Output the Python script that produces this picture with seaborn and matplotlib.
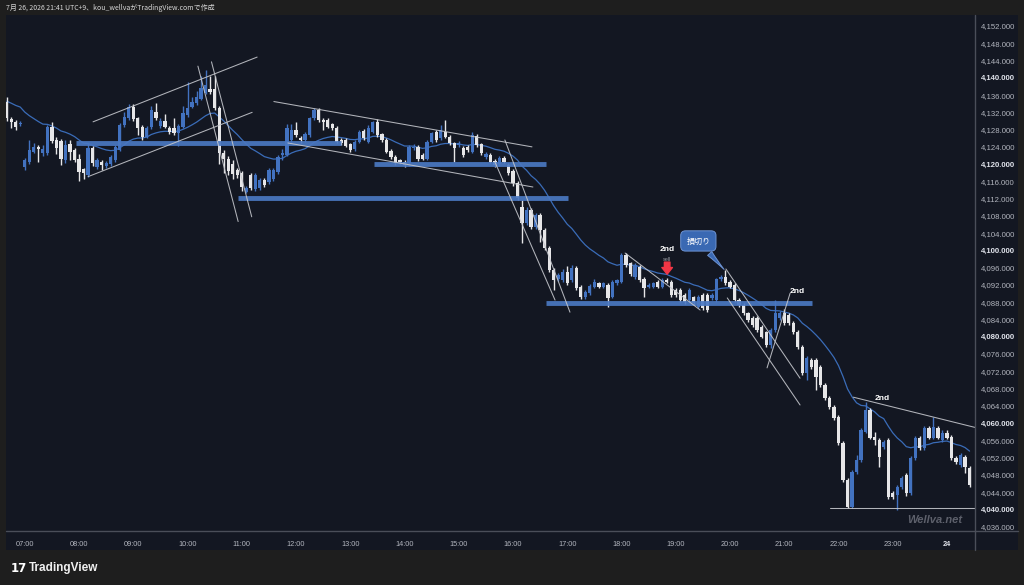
import numpy as np
import pandas as pd
import matplotlib
matplotlib.use("Agg")
import matplotlib.pyplot as plt
from matplotlib.lines import Line2D
from matplotlib.patches import Rectangle
import seaborn as sns

sns.set_theme(style="dark")
plt.rcParams['font.family'] = ['Liberation Sans', 'Noto Sans CJK JP', 'DejaVu Sans']

# 5-minute candles from 06:40 to 00:25 (JST)
start_time = "2026-07-23 06:40"

opens = [
    4134.5, 4130.5, 4129.7, 4129.2, 4119.3, 4120.6, 4122.9, 4123.9, 4122.6, 4122.6, 4128.7, 4125.6,
    4125.4, 4121.0, 4124.6, 4123.3, 4121.2, 4118.8, 4117.5, 4123.8, 4119.3, 4120.6, 4119.6, 4120.0,
    4121.0, 4123.3, 4129.1, 4130.6, 4133.3, 4130.6, 4128.7, 4126.4, 4128.7, 4132.1, 4128.8, 4130.0,
    4128.3, 4128.3, 4127.1, 4128.7, 4131.4, 4133.3, 4134.1, 4135.2, 4136.5, 4137.4, 4137.3, 4132.9,
    4122.6, 4121.3, 4120.0, 4118.6, 4117.9, 4113.6, 4117.5, 4114.3, 4114.4, 4116.3, 4115.9, 4116.5,
    4118.2, 4122.0, 4122.1, 4125.5, 4127.9, 4126.1, 4125.6, 4126.8, 4130.6, 4132.5, 4130.2, 4130.2,
    4129.2, 4128.4, 4125.6, 4125.6, 4124.6, 4123.5, 4125.2, 4127.7, 4125.2, 4127.5, 4129.8, 4126.9,
    4125.6, 4123.0, 4121.7, 4120.9, 4120.6, 4120.2, 4123.7, 4124.0, 4122.1, 4121.3, 4125.2, 4127.5,
    4126.0, 4127.5, 4126.4, 4124.8, 4124.4, 4123.8, 4124.0, 4122.9, 4126.6, 4124.6, 4121.7, 4122.1,
    4120.7, 4120.0, 4121.5, 4119.8, 4118.4, 4115.6, 4110.1, 4106.3, 4109.4, 4105.5, 4108.2, 4104.7,
    4100.5, 4095.5, 4093.5, 4093.1, 4095.1, 4093.1, 4095.9, 4091.6, 4089.3, 4090.1, 4091.6, 4092.4,
    4091.6, 4092.0, 4089.3, 4092.5, 4092.8, 4099.0, 4097.0, 4093.9, 4096.2, 4093.5, 4091.6, 4091.6,
    4092.8, 4091.6, 4093.2, 4092.8, 4090.8, 4090.8, 4089.7, 4088.5, 4089.1, 4087.0, 4089.7, 4089.7,
    4088.9, 4088.5, 4093.3, 4093.9, 4092.8, 4092.0, 4088.5, 4087.4, 4085.4, 4084.3, 4084.3, 4082.3,
    4081.0, 4078.1, 4081.6, 4084.3, 4085.5, 4085.0, 4083.2, 4081.1, 4077.6, 4071.6, 4074.6, 4074.6,
    4073.0, 4068.8, 4065.8, 4063.7, 4061.4, 4055.4, 4046.8, 4040.6, 4048.7, 4051.4, 4058.0, 4063.0,
    4056.8, 4056.1, 4054.5, 4056.1, 4043.8, 4043.3, 4045.2, 4048.0, 4043.8, 4051.9, 4056.6, 4054.2,
    4058.9, 4056.6, 4058.9, 4056.1, 4057.7, 4056.8, 4051.9, 4050.3, 4052.1, 4049.6,
]
highs = [
    4135.6, 4131.0, 4130.2, 4130.1, 4121.5, 4125.7, 4125.0, 4124.5, 4124.4, 4129.0, 4129.8, 4126.2,
    4125.8, 4125.6, 4125.6, 4123.8, 4122.4, 4119.2, 4125.0, 4124.2, 4121.4, 4121.0, 4120.8, 4122.0,
    4124.5, 4129.6, 4132.0, 4134.0, 4134.0, 4131.0, 4129.0, 4128.8, 4133.5, 4134.2, 4130.6, 4131.5,
    4128.8, 4130.6, 4129.4, 4133.5, 4139.1, 4135.5, 4137.0, 4140.4, 4141.8, 4140.4, 4140.4, 4133.4,
    4123.2, 4121.8, 4121.0, 4119.2, 4118.4, 4115.0, 4118.0, 4118.0, 4116.8, 4116.8, 4119.2, 4119.0,
    4122.0, 4123.5, 4129.2, 4129.3, 4129.8, 4126.6, 4127.4, 4131.0, 4132.9, 4133.0, 4130.8, 4130.8,
    4129.6, 4128.8, 4126.0, 4126.0, 4125.0, 4125.6, 4127.8, 4128.1, 4129.0, 4130.0, 4130.5, 4127.3,
    4126.0, 4123.4, 4122.1, 4121.3, 4121.0, 4124.4, 4124.6, 4124.4, 4122.5, 4125.6, 4127.5, 4128.0,
    4129.0, 4130.2, 4126.8, 4125.2, 4125.3, 4124.2, 4124.4, 4127.5, 4127.0, 4125.0, 4122.8, 4122.5,
    4121.1, 4121.9, 4121.9, 4120.2, 4118.8, 4116.0, 4111.7, 4110.0, 4109.8, 4108.7, 4108.6, 4105.1,
    4101.0, 4096.0, 4094.8, 4095.6, 4096.4, 4096.6, 4096.3, 4092.0, 4090.8, 4092.2, 4093.3, 4092.8,
    4092.8, 4092.4, 4093.2, 4093.5, 4099.4, 4099.4, 4097.4, 4097.0, 4096.6, 4093.9, 4092.4, 4092.8,
    4093.2, 4093.6, 4093.6, 4093.2, 4091.2, 4091.2, 4090.1, 4091.2, 4089.5, 4089.7, 4090.1, 4090.1,
    4090.1, 4093.7, 4094.3, 4095.5, 4093.2, 4092.4, 4088.9, 4087.8, 4085.8, 4084.7, 4084.7, 4082.7,
    4081.4, 4082.0, 4088.5, 4086.0, 4086.5, 4085.4, 4083.6, 4081.5, 4078.0, 4075.5, 4075.0, 4075.0,
    4073.4, 4069.2, 4066.2, 4064.1, 4061.8, 4055.8, 4047.2, 4049.1, 4052.5, 4058.8, 4065.0, 4063.4,
    4058.0, 4056.5, 4056.1, 4056.5, 4044.2, 4045.6, 4047.7, 4048.4, 4052.3, 4057.0, 4057.0, 4059.3,
    4059.3, 4061.4, 4059.3, 4058.5, 4058.5, 4057.2, 4052.3, 4053.0, 4052.5, 4050.0,
]
lows = [
    4130.0, 4128.4, 4128.0, 4128.8, 4118.6, 4120.0, 4122.5, 4120.6, 4121.8, 4122.2, 4125.0, 4122.4,
    4119.7, 4120.2, 4121.0, 4120.4, 4116.0, 4116.5, 4117.0, 4119.6, 4118.9, 4118.6, 4119.0, 4119.6,
    4120.6, 4123.0, 4128.6, 4130.2, 4130.0, 4126.8, 4125.6, 4126.0, 4128.2, 4130.2, 4128.4, 4128.3,
    4127.0, 4126.8, 4124.2, 4128.3, 4131.0, 4133.0, 4133.8, 4134.8, 4136.2, 4136.2, 4132.5, 4120.0,
    4118.0, 4117.5, 4116.6, 4116.8, 4113.8, 4113.2, 4114.0, 4113.8, 4114.0, 4114.8, 4115.4, 4116.0,
    4117.8, 4121.0, 4121.8, 4125.0, 4126.4, 4124.8, 4125.2, 4126.4, 4130.2, 4129.8, 4127.9, 4128.3,
    4127.9, 4124.8, 4124.4, 4123.9, 4122.8, 4123.0, 4124.8, 4125.7, 4124.8, 4127.1, 4126.3, 4125.2,
    4122.5, 4121.3, 4119.8, 4120.0, 4119.4, 4119.6, 4123.2, 4120.8, 4120.9, 4120.9, 4124.8, 4125.2,
    4125.6, 4126.0, 4124.4, 4120.6, 4124.0, 4121.7, 4122.9, 4122.5, 4124.0, 4122.1, 4121.3, 4120.2,
    4119.4, 4119.6, 4120.2, 4117.5, 4115.0, 4111.6, 4101.7, 4105.8, 4105.0, 4105.0, 4102.0, 4100.0,
    4095.0, 4090.8, 4093.0, 4092.7, 4092.0, 4092.7, 4090.8, 4088.8, 4088.8, 4089.7, 4091.2, 4091.2,
    4091.2, 4087.0, 4088.9, 4092.1, 4092.4, 4096.2, 4094.1, 4093.5, 4092.7, 4089.3, 4091.2, 4091.2,
    4091.2, 4091.2, 4092.4, 4089.3, 4089.3, 4088.1, 4087.7, 4088.1, 4087.4, 4086.6, 4086.2, 4085.8,
    4088.5, 4088.1, 4092.9, 4092.0, 4091.2, 4088.1, 4087.0, 4085.0, 4083.5, 4082.3, 4081.2, 4079.6,
    4077.7, 4077.5, 4081.0, 4084.0, 4082.8, 4082.8, 4080.7, 4077.2, 4071.2, 4070.0, 4072.6, 4067.7,
    4068.4, 4065.4, 4063.3, 4060.8, 4055.0, 4046.4, 4040.3, 4040.3, 4048.3, 4051.0, 4057.6, 4056.2,
    4055.0, 4049.8, 4054.1, 4042.5, 4042.5, 4039.9, 4044.8, 4043.0, 4043.4, 4051.5, 4053.8, 4053.8,
    4056.2, 4056.2, 4056.2, 4055.7, 4056.2, 4051.5, 4050.6, 4049.9, 4048.5, 4045.3,
]
closes = [
    4130.6, 4129.7, 4128.7, 4129.6, 4121.0, 4123.3, 4124.0, 4123.5, 4123.6, 4128.7, 4125.4, 4123.7,
    4121.3, 4124.4, 4122.9, 4121.0, 4118.2, 4117.9, 4123.7, 4120.2, 4121.0, 4119.8, 4120.2, 4121.6,
    4124.0, 4129.1, 4131.0, 4133.3, 4130.5, 4128.3, 4126.4, 4128.3, 4132.5, 4130.6, 4130.0, 4128.7,
    4127.5, 4127.1, 4128.8, 4131.8, 4133.0, 4134.5, 4135.6, 4137.6, 4138.3, 4136.6, 4132.9, 4122.5,
    4121.1, 4118.5, 4117.6, 4117.5, 4114.8, 4114.4, 4114.4, 4117.5, 4116.3, 4115.2, 4118.6, 4118.6,
    4121.6, 4122.6, 4128.4, 4128.0, 4126.8, 4125.6, 4126.9, 4130.6, 4132.5, 4130.2, 4129.8, 4128.7,
    4128.3, 4125.2, 4124.8, 4124.3, 4123.3, 4125.2, 4127.4, 4126.1, 4128.3, 4129.7, 4126.7, 4125.6,
    4122.9, 4121.7, 4120.2, 4120.4, 4119.8, 4124.0, 4124.0, 4121.3, 4121.3, 4125.2, 4127.1, 4125.6,
    4128.0, 4126.4, 4124.8, 4123.7, 4124.8, 4122.1, 4123.3, 4126.7, 4124.4, 4122.5, 4122.3, 4120.6,
    4119.8, 4121.5, 4120.6, 4117.9, 4115.6, 4112.1, 4106.3, 4109.4, 4105.5, 4108.2, 4104.7, 4100.5,
    4095.5, 4093.2, 4094.2, 4095.1, 4092.4, 4095.9, 4091.2, 4089.3, 4090.4, 4091.8, 4092.8, 4091.6,
    4092.4, 4088.9, 4092.8, 4093.1, 4099.0, 4096.6, 4094.5, 4096.6, 4093.1, 4091.2, 4092.0, 4092.4,
    4091.6, 4093.1, 4092.8, 4089.7, 4089.7, 4088.5, 4088.1, 4090.8, 4087.8, 4089.3, 4086.6, 4086.2,
    4089.7, 4093.3, 4093.9, 4092.4, 4091.6, 4088.5, 4087.4, 4085.4, 4083.9, 4082.7, 4081.6, 4080.0,
    4078.1, 4081.6, 4085.5, 4085.5, 4083.2, 4083.2, 4081.1, 4077.6, 4071.6, 4075.1, 4073.0, 4070.7,
    4068.8, 4065.8, 4063.7, 4061.2, 4055.4, 4046.8, 4040.6, 4048.7, 4051.4, 4058.4, 4063.0, 4056.6,
    4056.1, 4052.1, 4055.7, 4042.9, 4042.9, 4045.2, 4047.3, 4043.8, 4051.9, 4056.6, 4054.2, 4058.9,
    4056.6, 4059.1, 4056.6, 4057.7, 4056.6, 4051.9, 4051.0, 4052.6, 4049.8, 4045.7,
]

hour_labels = ['07:00', '08:00', '09:00', '10:00', '11:00', '12:00', '13:00', '14:00', '15:00',
               '16:00', '17:00', '18:00', '19:00', '20:00', '21:00', '22:00', '23:00', '24']

# moving average value just before the first visible bar
ma_seed = 4135.0
ma_span = 20

# horizontal zones (bar position start/end, price)
zone_start = [15.3, 81.3, 51.2, 119.3]
zone_end = [74.0, 119.3, 124.2, 178.2]
zone_price = [4124.8, 4120.0, 4112.1, 4087.9]

# trend lines (bar position, price) -> (bar position, price)
line_x0 = [19.1, 18.0, 42.3, 45.3, 59.1, 62.2, 108.0, 110.2, 136.8, 159.1, 159.4, 168.2, 187.3, 182.1]
line_p0 = [4129.8, 4117.1, 4142.7, 4143.7, 4134.5, 4124.9, 4120.5, 4125.6, 4099.4, 4095.7, 4089.0, 4072.8, 4066.0, 4040.3]
line_x1 = [55.4, 54.3, 51.2, 54.2, 116.2, 116.4, 121.3, 124.6, 153.4, 175.5, 175.5, 173.3, 214.2, 214.2]
line_p1 = [4144.8, 4132.0, 4106.7, 4107.8, 4124.0, 4114.7, 4088.5, 4085.7, 4086.2, 4070.4, 4064.2, 4090.1, 4059.0, 4040.3]

BG = '#131722'
OUTER = '#1e1e1e'
UP = '#4272c0'
DOWN = '#e6e6e8'
TXT = '#b2b5be'

times = pd.date_range(start_time, periods=len(closes), freq='5min')
df = pd.DataFrame({'open': opens, 'high': highs, 'low': lows, 'close': closes}, index=times)
df['pos'] = np.arange(len(df))
ma = pd.Series([ma_seed] + closes).ewm(span=ma_span, adjust=False).mean().iloc[1:].values
df['ma'] = ma

fig = plt.figure(figsize=(10.24, 5.85), dpi=100, facecolor=OUTER)
W, H = 1024, 585

# chart panel background
fig.add_artist(Rectangle((6 / W, 1 - 550 / H), 1012 / W, 535 / H, transform=fig.transFigure,
                         facecolor=BG, edgecolor='none', zorder=0))

ax = fig.add_axes([6 / W, 1 - 531 / H, 969 / W, 516 / H])
ax.set_facecolor(BG)

up = df['close'] >= df['open']
colors = np.where(up, UP, DOWN)
body_low = np.minimum(df['open'], df['close'])
body_h = np.maximum(np.abs(df['close'] - df['open']), 0.25)

ax.vlines(df['pos'], df['low'], df['high'], colors=colors, linewidth=1.0, zorder=3)
ax.bar(df['pos'], body_h, bottom=body_low, width=0.72, color=colors, linewidth=0, zorder=3)

sns.lineplot(x=df['pos'], y=df['ma'], ax=ax, color='#3a6cb8', linewidth=0.9, zorder=2.5)

for x0, x1, p in zip(zone_start, zone_end, zone_price):
    ax.plot([x0, x1], [p, p], color='#4a78c2', linewidth=3.5, alpha=0.92,
            solid_capstyle='butt', zorder=4)

for x0, p0, x1, p1 in zip(line_x0, line_p0, line_x1, line_p1):
    ax.plot([x0, x1], [p0, p1], color='#c4c6cc', linewidth=0.75, alpha=0.9, zorder=5)

# annotations
ax.text(146.1, 4100.3, '2nd', color='white', fontsize=6, fontweight='bold', ha='center', va='center', zorder=6)
ax.text(146.1, 4097.9, 'sell', color='#9a9ca3', fontsize=4, ha='center', va='center', zorder=6)
ax.annotate('', xy=(146.1, 4094.5), xytext=(146.1, 4097.3),
            arrowprops=dict(arrowstyle='simple,head_length=0.6,head_width=0.95,tail_width=0.5',
                            fc='#f23645', ec='#f23645', shrinkA=0, shrinkB=0, mutation_scale=8),
            zorder=6)
ax.text(174.9, 4090.6, '2nd', color='white', fontsize=6, fontweight='bold', ha='center', va='center', zorder=6)
ax.text(193.7, 4065.8, '2nd', color='white', fontsize=6, fontweight='bold', ha='center', va='center', zorder=6)
ax.annotate('損切り', xy=(158.7, 4095.6), xytext=(153.0, 4102.2), ha='center', va='center',
            fontsize=5.8, color='white', family=['Noto Sans CJK JP'], zorder=7,
            bbox=dict(boxstyle='round,pad=0.7,rounding_size=0.6', fc='#3a69b3', ec='#6d93d3', lw=0.7),
            arrowprops=dict(arrowstyle='wedge,tail_width=0.7,shrink_factor=0.4',
                            fc='#3a69b3', ec='#6d93d3', lw=0.7, shrinkB=0))
ax.text(0.958, 0.012, 'Wellva.net', transform=ax.transAxes, color='#5d606b', fontsize=8,
        fontstyle='italic', fontweight='bold', ha='center', va='bottom', zorder=6)

# axes
ax.set_xlim(-0.155, 214.2)
ax.set_ylim(4035.0, 4154.55)
ax.grid(False)

tick_pos = df.loc[df.index.minute == 0, 'pos'].values
ax.set_xticks(tick_pos)
ax.set_xticklabels(hour_labels)
for lab in ax.get_xticklabels():
    lab.set_color(TXT)
    lab.set_fontsize(5.3)
    if lab.get_text() == '24':
        lab.set_fontweight('bold')
        lab.set_color('#e0e3eb')
ax.tick_params(axis='x', length=0, pad=7.5)

price_ticks = np.arange(4036, 4153, 4)
ax.yaxis.tick_right()
ax.set_yticks(price_ticks)
ax.set_yticklabels([f'{v:,.3f}' for v in price_ticks])
for v, lab in zip(price_ticks, ax.get_yticklabels()):
    lab.set_fontsize(5.6)
    if v % 20 == 0:
        lab.set_fontweight('bold')
        lab.set_color('#e0e3eb')
    else:
        lab.set_color(TXT)
ax.tick_params(axis='y', length=0, pad=4)
ax.set_xlabel('')
ax.set_ylabel('')
for s in ax.spines.values():
    s.set_visible(False)

# panel separators
sep = '#4a4e59'
fig.add_artist(Line2D([6 / W, 1018 / W], [1 - 531 / H] * 2, transform=fig.transFigure, color=sep, lw=1))
fig.add_artist(Line2D([975 / W] * 2, [1 - 15 / H, 1 - 550 / H], transform=fig.transFigure, color=sep, lw=1))

fig.text(6 / W, 1 - 7.5 / H, '7月 26, 2026 21:41 UTC+9、kou_wellvaがTradingView.comで作成',
         fontsize=5.0, color='#d8d8d8', ha='left', va='center', family=['Noto Sans CJK JP'])
fig.text(11 / W, 1 - 568 / H, '17', fontsize=8.5, fontweight='heavy', color='white',
         ha='left', va='center', family=['DejaVu Sans'])
fig.text(29 / W, 1 - 568 / H, 'TradingView', fontsize=8.5, fontweight='bold', color='#f0f0f0',
         ha='left', va='center')

fig.savefig('out.png', dpi=100, facecolor=OUTER)
